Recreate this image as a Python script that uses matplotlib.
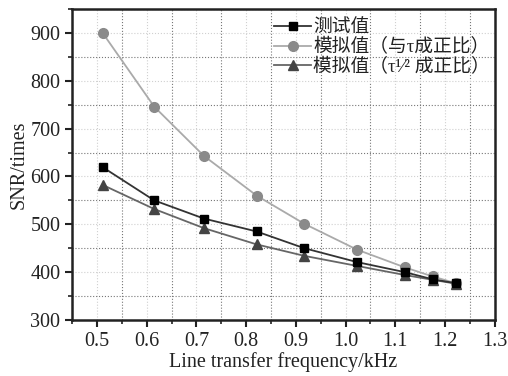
import matplotlib
matplotlib.use('Agg')
import matplotlib.pyplot as plt
from matplotlib.ticker import MultipleLocator

plt.rcParams['font.family'] = ['Liberation Serif', 'Noto Sans CJK SC', 'DejaVu Sans']

# Data
freq = [0.512, 0.615, 0.715, 0.821, 0.917, 1.023, 1.119, 1.175, 1.221]
measured = [619, 550, 512, 485, 450, 421, 400, 385, 377]
sim_tau = [899, 746, 643, 560, 501, 447, 410, 391, 377]
sim_sqrt_tau = [582, 532, 492, 458, 434, 413, 394, 384, 376]

labels = ['测试值', '模拟值（与τ成正比）', '模拟值（τ¹⁄² 成正比）']

fig = plt.figure(figsize=(5.08, 3.76), dpi=100)
ax = fig.add_axes([0.142, 0.149, 0.832, 0.827])

ax.plot(freq, measured, color='#333333', linewidth=1.3, marker='s', markersize=6,
        markerfacecolor='black', markeredgecolor='black', label=labels[0], zorder=4)
ax.plot(freq, sim_tau, color='#aaaaaa', linewidth=1.3, marker='o', markersize=7,
        markerfacecolor='#8a8a8a', markeredgecolor='#8a8a8a', label=labels[1], zorder=3)
ax.plot(freq, sim_sqrt_tau, color='#666666', linewidth=1.3, marker='^', markersize=7,
        markerfacecolor='#444444', markeredgecolor='#444444', label=labels[2], zorder=3)

ax.set_xlim(0.45, 1.3)
ax.set_ylim(300, 950)
ax.xaxis.set_major_locator(MultipleLocator(0.1))
ax.xaxis.set_minor_locator(MultipleLocator(0.05))
ax.yaxis.set_minor_locator(MultipleLocator(50))
ax.set_yticks([300, 400, 500, 600, 700, 800, 900])
ax.xaxis.set_major_formatter(matplotlib.ticker.FormatStrFormatter('%.1f'))

ax.grid(which='major', color='#d0d0d0', linestyle=':', linewidth=0.8)
ax.grid(which='minor', color='#777777', linestyle=':', linewidth=0.8)
ax.set_axisbelow(True)

for s in ax.spines.values():
    s.set_linewidth(1.8)
    s.set_color('#222222')

ax.tick_params(which='major', direction='out', length=5, width=1.5, labelsize=14.5, colors='#222222')
ax.tick_params(which='minor', direction='out', length=3, width=1.2, colors='#222222')

ax.set_xlabel('Line transfer frequency/kHz', fontsize=14.5, labelpad=1, color='#222222')
ax.set_ylabel('SNR/times', fontsize=14.5, labelpad=1, color='#222222')

leg = ax.legend(loc='upper right', bbox_to_anchor=(1.02, 1.01), frameon=False, fontsize=13.5,
                handlelength=2.0, handletextpad=0.1, labelspacing=0.1, borderpad=0.2)
for t in leg.get_texts():
    t.set_color('#222222')

fig.savefig('out.png', dpi=100, facecolor='white')
